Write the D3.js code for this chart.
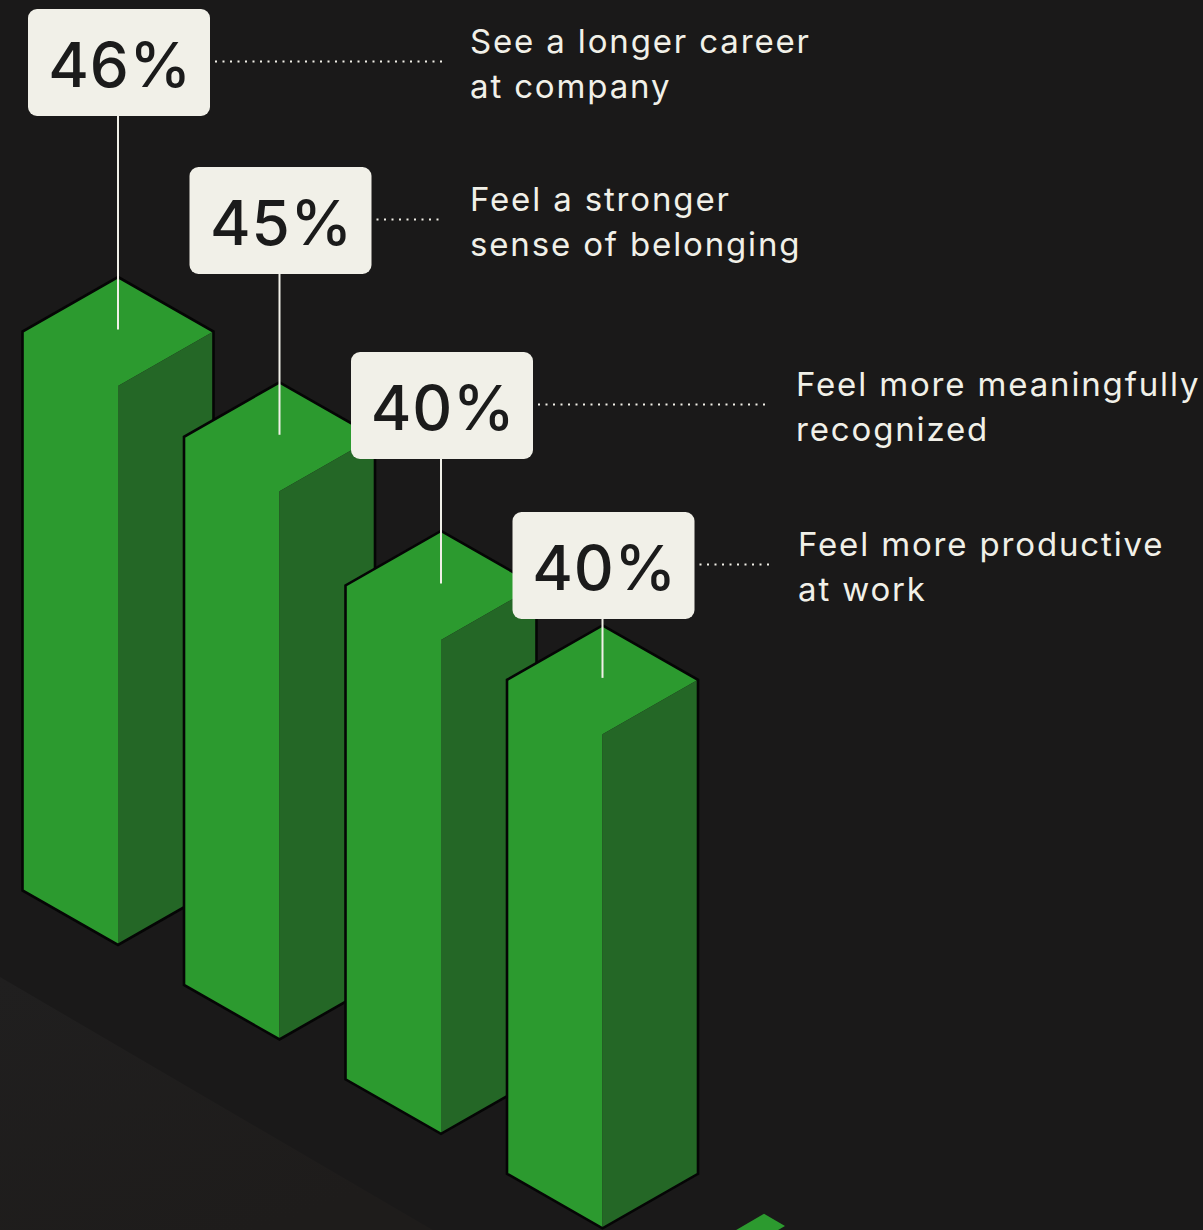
<!DOCTYPE html>
<html>
<head>
<meta charset="utf-8">
<script src="https://cdn.jsdelivr.net/npm/d3@7"></script>
<style>
  html, body { margin: 0; padding: 0; background: #1a1919; }
  svg { display: block; }
</style>
</head>
<body>
<svg id="chart" width="1203" height="1230"></svg>
<script>
// Survey results: share of employees reporting each outcome
const categories = ["career", "belonging", "recognized", "productive"];
const values = [46, 45, 40, 40];
const descriptions = [
  ["See a longer career", "at company"],
  ["Feel a stronger", "sense of belonging"],
  ["Feel more meaningfully", "recognized"],
  ["Feel more productive", "at work"]
];
const valueLabels = values.map(v => `${v}%`);

// Layout
const W = 1203, H = 1230;
const halfW = 95.5;          // half width of the isometric top face
const halfD = 54.5;          // half depth (vertical) of the isometric top face
const isoSlope = 0.5847;     // slope of the row the columns stand on
const boxTop = [9, 167, 352, 512];
const textX = [470, 470, 796, 798];
const boxW = 182, boxH = 107;

const COLORS = {
  bg: "#1a1919",
  floor: "#1f1e1e",
  light: "#2c9a2f",
  dark: "#246726",
  outline: "#050505",
  paper: "#f1f0e8",
  ink: "#1b1b1b"
};

const svg = d3.select("#chart");

// Position of each column's front-bottom corner along the isometric row
const x = d3.scalePoint().domain(categories).range([118, 602.5]);
const baseY = px => 945 + (px - 118) * isoSlope;
// Column height in pixels
const h = d3.scaleLinear().domain([0, 46]).range([60, 559]);

svg.append("rect").attr("width", W).attr("height", H).attr("fill", COLORS.bg);

// Lighter floor band in the lower-left corner, parallel to the row of columns
const floorOffset = 101;
const floorY0 = baseY(0) + floorOffset;
const floorXEnd = (H - floorY0) / isoSlope;
const grad = svg.append("defs").append("linearGradient")
  .attr("id", "floorGrad").attr("x1", "0").attr("y1", "0").attr("x2", "0.6").attr("y2", "1");
grad.append("stop").attr("offset", "0").attr("stop-color", "#201f1f");
grad.append("stop").attr("offset", "1").attr("stop-color", "#1e1c1b");
svg.append("path")
  .attr("d", d3.line()([[0, floorY0], [floorXEnd, H], [0, H]]) + "Z")
  .attr("fill", "url(#floorGrad)");

// Floor tile of the next slot in the row, just showing at the bottom edge
const step = x.step();
const nx = x(categories[categories.length - 1]) + step;
const nTop = [nx, baseY(nx) - 2 * halfD];
const stripW = 21;
svg.append("path")
  .attr("d", d3.line()([
    nTop,
    [nTop[0] + stripW, nTop[1] + stripW * isoSlope],
    [nTop[0] + stripW - halfW, nTop[1] + stripW * isoSlope + halfW * isoSlope],
    [nTop[0] - halfW, nTop[1] + halfW * isoSlope]
  ]) + "Z")
  .attr("fill", COLORS.light);

// Column geometry
const bars = categories.map((c, i) => {
  const fx = x(c), fy = baseY(fx), hh = h(values[i]);
  return {
    i, fx, fy,
    T: [fx, fy - hh - 2 * halfD],
    R: [fx + halfW, fy - hh - halfD],
    L: [fx - halfW, fy - hh - halfD],
    F: [fx, fy - hh],
    B: [fx, fy],
    RB: [fx + halfW, fy - halfD],
    LB: [fx - halfW, fy - halfD]
  };
});

const line = d3.line();
const g = svg.append("g").selectAll("g").data(bars).join("g");
g.append("path")
  .attr("d", d => line([d.T, d.R, d.F, d.B, d.LB, d.L]) + "Z")
  .attr("fill", COLORS.light);
g.append("path")
  .attr("d", d => line([d.R, d.RB, d.B, d.F]) + "Z")
  .attr("fill", COLORS.dark);
g.append("path")
  .attr("d", d => line([d.T, d.R, d.RB, d.B, d.LB, d.L]) + "Z")
  .attr("fill", "none")
  .attr("stroke", COLORS.outline)
  .attr("stroke-width", 2.6)
  .attr("stroke-linejoin", "miter");

// Connectors from each value badge down to the centre of the column's top face
svg.append("g").selectAll("line").data(bars).join("line")
  .attr("x1", d => d.fx).attr("x2", d => d.fx)
  .attr("y1", d => boxTop[d.i] + boxH - 1)
  .attr("y2", d => d.T[1] + halfD - 2)
  .attr("stroke", COLORS.paper)
  .attr("stroke-width", 2);

// Value badges
const badge = svg.append("g").selectAll("g").data(bars).join("g")
  .attr("transform", d => `translate(${d.fx - boxW / 2 + 1},${boxTop[d.i]})`);
badge.append("rect")
  .attr("width", boxW).attr("height", boxH).attr("rx", 9)
  .attr("fill", COLORS.paper);
badge.append("text")
  .attr("x", boxW / 2 + 1).attr("y", boxH / 2 + 24)
  .attr("text-anchor", "middle")
  .attr("font-family", "Inter, 'Noto Sans', sans-serif")
  .attr("font-weight", 500)
  .attr("font-size", 62)
  .attr("letter-spacing", 0.8)
  .attr("fill", COLORS.ink)
  .text(d => valueLabels[d.i]);

// Dotted leaders from badges to the descriptions
svg.append("g").selectAll("line").data(bars).join("line")
  .attr("x1", d => d.fx - boxW / 2 + 1 + boxW + 5)
  .attr("x2", d => textX[d.i] - 27)
  .attr("y1", d => boxTop[d.i] + boxH / 2 - 1)
  .attr("y2", d => boxTop[d.i] + boxH / 2 - 1)
  .attr("stroke", COLORS.paper)
  .attr("stroke-width", 2)
  .attr("stroke-dasharray", "2 5.5");

// Descriptions
const desc = svg.append("g").selectAll("text").data(bars).join("text")
  .attr("font-family", "Inter, 'Noto Sans', sans-serif")
  .attr("font-weight", 400)
  .attr("font-size", 33)
  .attr("letter-spacing", 1.85)
  .attr("fill", COLORS.paper);
desc.selectAll("tspan").data(d => descriptions[d.i].map((t, k) => ({ t, k, d }))).join("tspan")
  .attr("x", e => textX[e.d.i])
  .attr("y", e => boxTop[e.d.i] + boxH / 2 - 10 + e.k * 45)
  .text(e => e.t);
</script>
</body>
</html>
